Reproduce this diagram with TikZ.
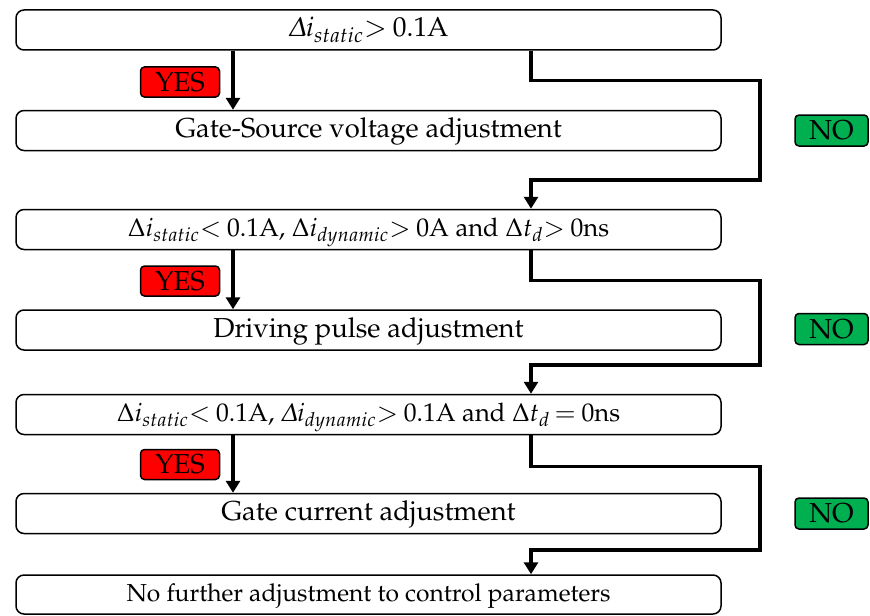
\documentclass[tikz,border=0pt]{standalone}
\usepackage[T1]{fontenc}
\usepackage{mathpazo}
\usepackage{tikz}
\usetikzlibrary{arrows.meta}
\tikzset{every picture/.style={line width=0.75pt}}
\definecolor{yesred}{RGB}{255,0,0}
\definecolor{nogreen}{RGB}{0,176,80}
\newcommand{\rel}[1]{\mathord{#1}\mkern4mu}
\tikzset{
  stepbox/.style={draw, rounded corners=4pt, minimum width=352.5pt, minimum height=20pt, inner sep=0pt, text height=9.5pt, text depth=2.5pt, font=\fontsize{13.7}{16}\selectfont},
  yestag/.style={draw, fill=yesred, rounded corners=2pt, minimum width=39.5pt, minimum height=15pt, inner sep=0pt, font=\fontsize{13.7}{16}\selectfont},
  notag/.style={draw, fill=nogreen, rounded corners=2pt, minimum width=36.5pt, minimum height=15.5pt, inner sep=0pt, font=\fontsize{13.7}{16}\selectfont},
  flow/.style={line width=1.6pt, -{Triangle[width=7pt,length=6pt]}}
}

\begin{document}
\begin{tikzpicture}[x=0.5pt,y=0.5pt,yscale=-1]
    \useasboundingbox (0,0) rectangle (870,615);
    \coordinate (yx) at (233,0);
    \coordinate (nx) at (531,0);
    % conditions and adjustments
    \node[stepbox] (c1) at (368.5,30) {$\mathnormal{\Delta} i_{static}\rel{>}0.1\mathrm{A}$};
    \node[stepbox] (a1) at (368.5,130.5) {Gate-Source voltage adjustment};
    \node[stepbox, font=\fontsize{12.8}{15}\selectfont] (c2) at (368.5,229.5) {$\Delta i_{static}\rel{<}0.1\mathrm{A}$, $\Delta i_{dynamic}\rel{>}0\mathrm{A}$ and $\Delta t_d\rel{>}0\mathrm{ns}$};
    \node[stepbox] (a2) at (368.5,330) {Driving pulse adjustment};
    \node[stepbox, font=\fontsize{12.8}{15}\selectfont] (c3) at (368.5,414.5) {$\Delta i_{static}\rel{<}0.1\mathrm{A}$, $\mathnormal{\Delta} i_{dynamic}\rel{>}0.1\mathrm{A}$ and $\Delta t_d\mkern3mu\rel{=}0\mathrm{ns}$};
    \node[stepbox] (a3) at (368.5,513.5) {Gate current adjustment};
    \node[stepbox, font=\fontsize{12.3}{14}\selectfont, minimum height=19.5pt] (a4) at (368.5,594.5) {No further adjustment to control parameters};
    % yes branches
    \draw[flow] (c1.south -| yx) -- (a1.north -| yx);
    \draw[flow] (c2.south -| yx) -- (a2.north -| yx);
    \draw[flow] (c3.south -| yx) -- (a3.north -| yx);
    \node[yestag] (y1) at (180,82) {YES};
    \node[yestag] (y2) at (180,281) {YES};
    \node[yestag] (y3) at (180,464.5) {YES};
    % no branches
    \draw[flow] (c1.south -| nx) -- ++(0,30) -| (760,180) -| (c2.north -| nx);
    \draw[flow] (c2.south -| nx) -- ++(0,30) -| (760,365) -| (c3.north -| nx);
    \draw[flow] (c3.south -| nx) -- ++(0,31) -| (760,550) -| (a4.north -| nx);
    \node[notag] (n1) at (831.5,130.5) {NO};
    \node[notag] (n2) at (831.5,329) {NO};
    \node[notag] (n3) at (831.5,513.5) {NO};
\end{tikzpicture}
\end{document}
